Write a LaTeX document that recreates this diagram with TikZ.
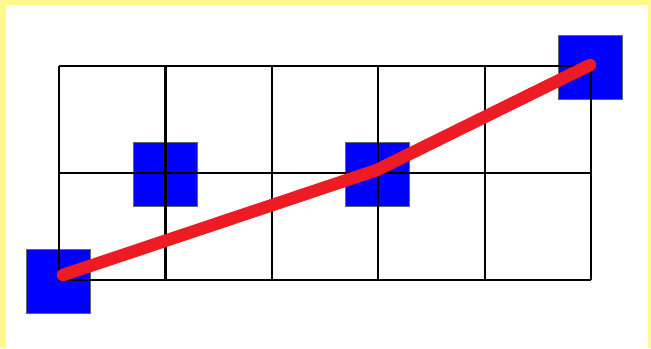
\documentclass[tikz,border=0pt]{standalone}
\usepackage{tikz}
\usetikzlibrary{positioning}

\begin{document}
\begin{tikzpicture}[x=0.01cm, y=-0.01cm,
        cell/.style={draw=black, line width=0.022cm},
        marker/.style={rectangle, fill=blue, draw=gray!80!black, line width=0.008cm, minimum size=0.64cm, inner sep=0pt},
        path/.style={draw={rgb,255:red,237;green,28;blue,36}, line width=0.125cm, line cap=round, line join=round}
    ]
        % Frame
        \fill[yellow!45] (0, 0) rectangle (651, 348);
        \fill[white] (6, 5) rectangle (648, 348);
        \useasboundingbox (0, 0) rectangle (651, 348);

        % Markers
        \node[marker] (start) at (58, 281) {};
        \node[marker] (left) at (165, 174) {};
        \node[marker] (mid) at (377, 174) {};
        \node[marker] (goal) at (590, 67) {};

        % Grid
        \foreach \i in {0,...,5}
            \draw[cell] (59+106.4*\i, 66) -- (59+106.4*\i, 280);
        \foreach \j in {0,...,2}
            \draw[cell] (59, 66+107*\j) -- (591, 66+107*\j);

        % Route
        \coordinate (p0) at (63, 275);
        \coordinate (p1) at (377, 170);
        \coordinate (p2) at (590, 65);
        \draw[path] (p0) -- (p1) -- (p2);
    \end{tikzpicture}
\end{document}
